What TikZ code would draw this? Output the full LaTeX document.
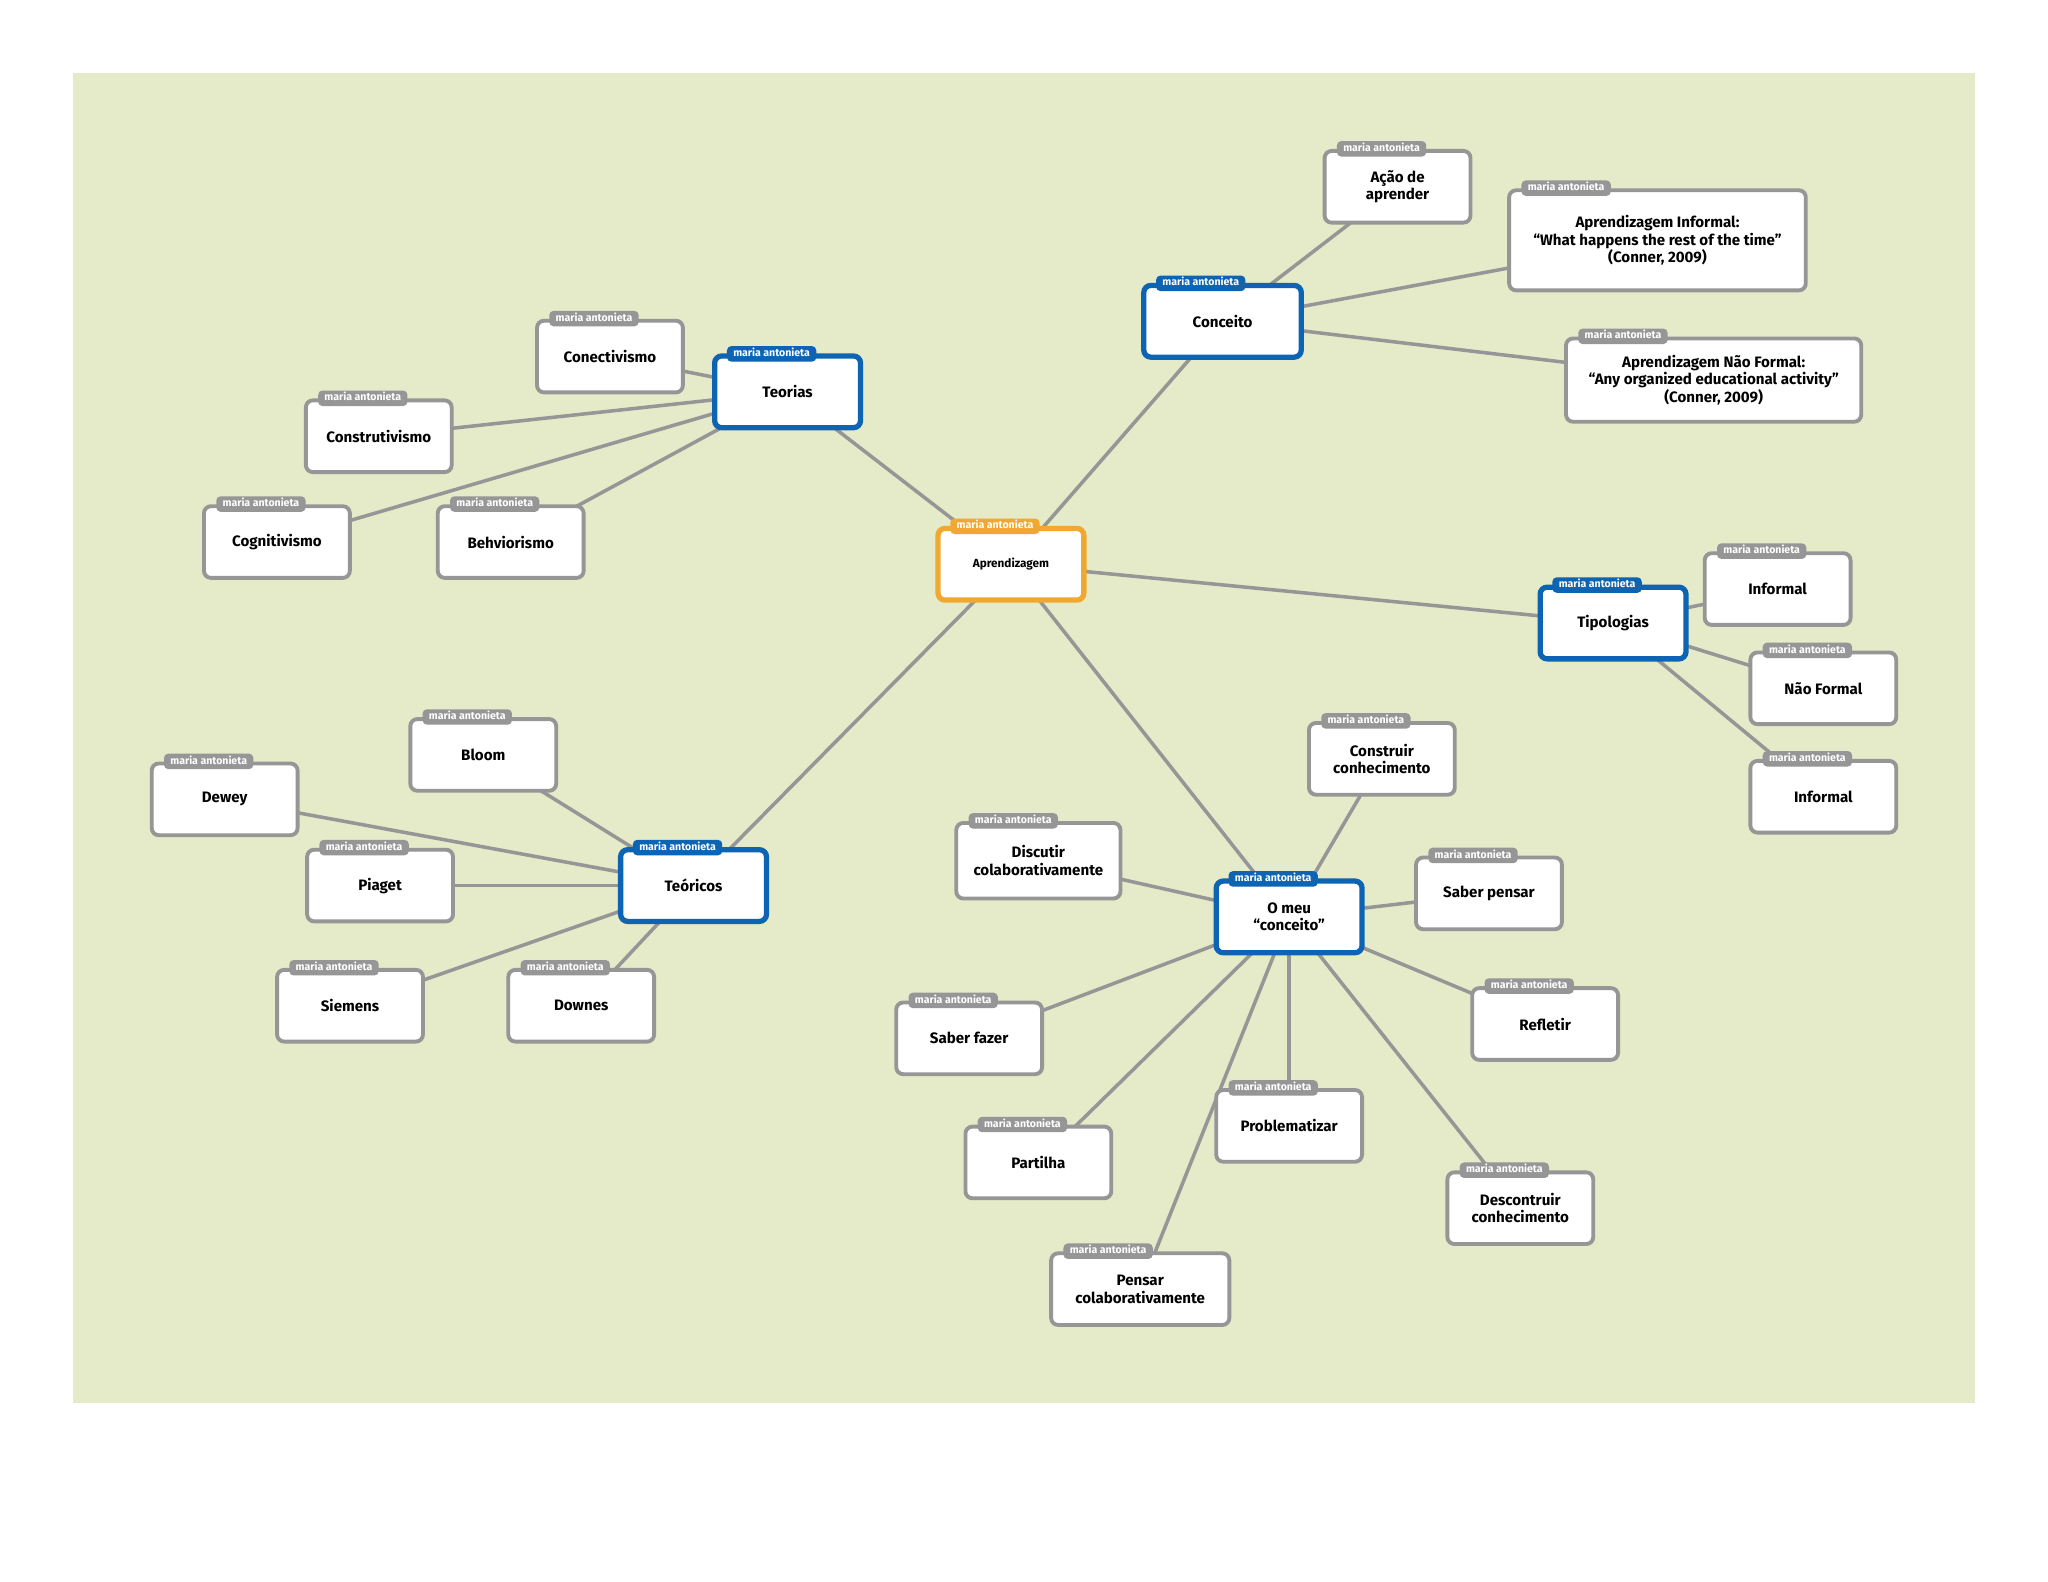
\documentclass[tikz,border=0pt]{standalone}
\usepackage{fontspec}
\setmainfont{Fira Sans}
\definecolor{paper}{RGB}{229,234,200}
\definecolor{lead}{RGB}{150,150,150}
\definecolor{topic}{RGB}{12,100,178}
\definecolor{core}{RGB}{240,168,48}
\newcommand\cardfont{\fontsize{4.3}{5.0}\selectfont\bfseries}
\newcommand\corefont{\fontsize{3.35}{3.8}\selectfont\bfseries}
\newcommand\tagfont{\fontsize{3.0}{3.4}\selectfont\bfseries}
\pgfdeclarelayer{back}
\pgfdeclarelayer{links}
\pgfsetlayers{back,links,main}

\begin{document}
\begin{tikzpicture}[x=0.013061cm, y=-0.013061cm,
    card/.style={draw=#1, fill=white, line width=1.1pt, rounded corners=2pt, align=center,
      font=\cardfont, text=black, minimum width=41.5pt, minimum height=20.4pt,
      inner sep=1pt, outer sep=0pt, label={[tag=#1]north west:maria antonieta}},
    card/.default=lead,
    topiccard/.style={card=topic, line width=1.5pt},
    tag/.style={fill=#1, text=white, font=\tagfont, rounded corners=1.2pt, anchor=west,
      xshift=3.3pt, yshift=0.6pt, inner xsep=1.8pt, inner ysep=0pt, minimum height=4.4pt,
      text height=2.1pt, text depth=0.6pt},
    link/.style={draw=lead, line width=1pt}]
  \useasboundingbox (0,0) rectangle (1568,1211);
  \begin{pgfonlayer}{back}
    \fill[white] (0,0) rectangle (1568,1211);
    \fill[paper] (56,56) rectangle (1512,1074);
  \end{pgfonlayer}

  \node[card=core, font=\corefont, line width=1.5pt] (apr) at (774,432) {Aprendizagem};

  \node[topiccard] (teorias) at (603,300) {Teorias};
  \node[topiccard, minimum width=44.8pt] (conceito) at (936,246) {Conceito};
  \node[topiccard] (tipologias) at (1235,477) {Tipologias};
  \node[topiccard] (teoricos) at (531,678) {Teóricos};
  \node[topiccard] (omeu) at (987,702) {O meu\\“conceito”};

  \node[card] (conectivismo) at (467,273) {Conectivismo};
  \node[card] (construtivismo) at (290,334) {Construtivismo};
  \node[card] (cognitivismo) at (212,415) {Cognitivismo};
  \node[card] (behviorismo) at (391,415) {Behviorismo};

  \node[card] (acao) at (1070,143) {Ação de\\aprender};
  \node[card, minimum width=84.4pt, minimum height=28.5pt] (aprinf) at (1269,184)
    {Aprendizagem Informal:\\“What happens the rest of the time”\\(Conner, 2009)};
  \node[card, minimum width=84pt, minimum height=23.7pt] (aprnf) at (1312,291)
    {Aprendizagem Não Formal:\\“Any organized educational activity”\\(Conner, 2009)};

  \node[card] (informala) at (1361,451) {Informal};
  \node[card] (naoformal) at (1396,527) {Não Formal};
  \node[card] (informalb) at (1396,610) {Informal};

  \node[card] (bloom) at (370,578) {Bloom};
  \node[card] (dewey) at (172,612) {Dewey};
  \node[card] (piaget) at (291,678) {Piaget};
  \node[card] (siemens) at (268,770) {Siemens};
  \node[card] (downes) at (445,770) {Downes};

  \node[card] (construir) at (1058,581) {Construir\\conhecimento};
  \node[card, minimum width=46.7pt, minimum height=21.5pt] (discutir) at (795,659) {Discutir\\colaborativamente};
  \node[card] (saberpensar) at (1140,684) {Saber pensar};
  \node[card] (saberfazer) at (742,795) {Saber fazer};
  \node[card] (refletir) at (1183,784) {Refletir};
  \node[card] (partilha) at (795,890) {Partilha};
  \node[card] (problematizar) at (987,862) {Problematizar};
  \node[card] (descontruir) at (1164,925) {Descontruir\\conhecimento};
  \node[card, minimum width=50.7pt] (pensar) at (873,987) {Pensar\\colaborativamente};

  \begin{pgfonlayer}{links}
    \foreach \a/\b in {apr/teorias, apr/conceito, apr/tipologias, apr/teoricos, apr/omeu,
        teorias/conectivismo, teorias/construtivismo, teorias/cognitivismo, teorias/behviorismo,
        conceito/acao, conceito/aprinf, conceito/aprnf,
        tipologias/informala, tipologias/naoformal, tipologias/informalb,
        teoricos/bloom, teoricos/dewey, teoricos/piaget, teoricos/siemens, teoricos/downes,
        omeu/construir, omeu/discutir, omeu/saberpensar, omeu/saberfazer, omeu/refletir,
        omeu/partilha, omeu/problematizar, omeu/descontruir, omeu/pensar}
      \draw[link] (\a.center) -- (\b.center);
  \end{pgfonlayer}
\end{tikzpicture}
\end{document}
